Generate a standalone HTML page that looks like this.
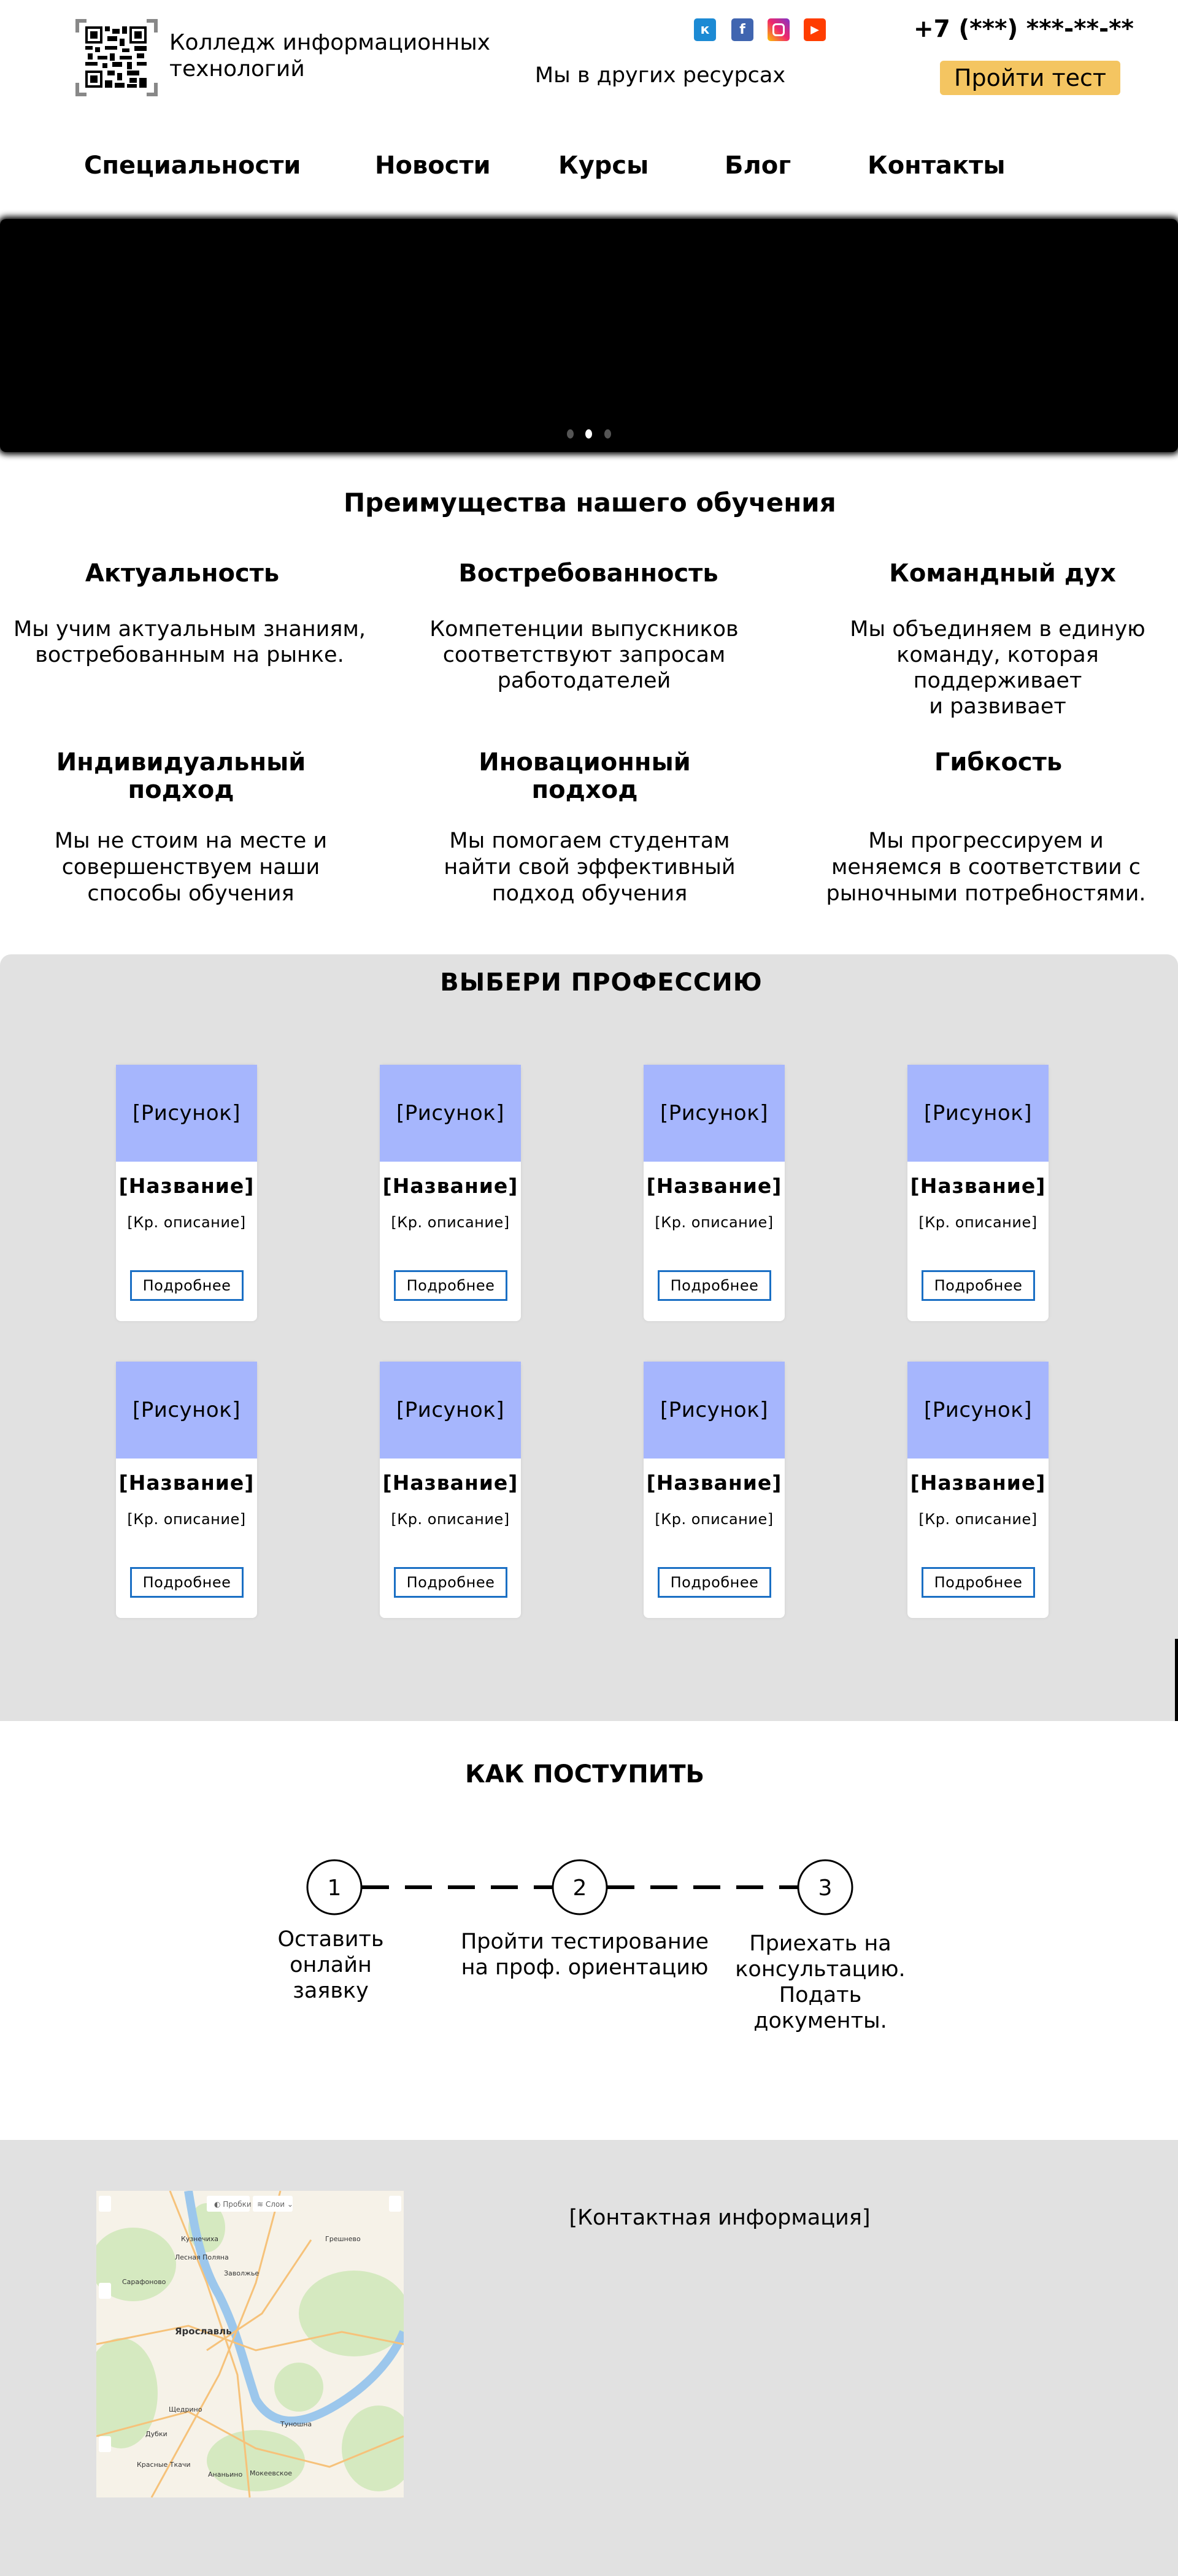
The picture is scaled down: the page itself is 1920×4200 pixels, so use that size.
<!DOCTYPE html>
<html><head><meta charset="utf-8">
<style>
*{margin:0;padding:0;box-sizing:border-box}
body{width:1920px;height:4200px;position:relative;background:#fff;font-family:"DejaVu Sans","Liberation Sans",sans-serif;color:#000;overflow:hidden}
.a{position:absolute}
.c{position:absolute;text-align:center;width:800px;white-space:nowrap}
.b{font-weight:bold}
.card{position:absolute;width:230px;height:418px;background:#fff;border-radius:8px;box-shadow:0 0 6px rgba(0,0,0,0.08)}
.card .img{position:absolute;left:0;top:0;width:230px;height:158px;background:#a6b6fd;font-size:34px;line-height:158px;text-align:center;letter-spacing:0.5px}
.card .n{position:absolute;top:178px;left:-10px;width:250px;text-align:center;font-weight:bold;font-size:33px;line-height:40px;letter-spacing:1px}
.card .d{position:absolute;top:242px;width:230px;text-align:center;font-size:24px;line-height:30px;letter-spacing:0.5px}
.card .btn{position:absolute;left:23px;top:335px;width:185px;height:50px;border:3px solid #1a6fc4;font-size:24px;line-height:44px;text-align:center;letter-spacing:0.5px}
.soc{position:absolute;top:30px;width:36px;height:37px;border-radius:5px;color:#fff;font-weight:bold;text-align:center;line-height:37px;font-size:22px}
</style></head><body>

<!-- header -->
<svg class="a" style="left:123px;top:31px" width="134" height="126" viewBox="0 0 134 126">
<g fill="#888"><rect x="0" y="0" width="18" height="6"/><rect x="0" y="0" width="6" height="22"/>
<rect x="116" y="0" width="18" height="6"/><rect x="128" y="0" width="6" height="22"/>
<rect x="0" y="120" width="18" height="6"/><rect x="0" y="104" width="6" height="22"/>
<rect x="116" y="120" width="18" height="6"/><rect x="128" y="104" width="6" height="22"/></g>
<g fill="#000" transform="translate(16,12)">
<rect x="0" y="0" width="28" height="28"/><rect x="4" y="4" width="20" height="20" fill="#fff"/><rect x="8" y="8" width="12" height="12"/>
<rect x="72" y="0" width="28" height="28"/><rect x="76" y="4" width="20" height="20" fill="#fff"/><rect x="80" y="8" width="12" height="12"/>
<rect x="0" y="72" width="28" height="28"/><rect x="4" y="76" width="20" height="20" fill="#fff"/><rect x="8" y="80" width="12" height="12"/>
<rect x="32" y="0" width="8" height="8"/><rect x="44" y="4" width="12" height="8"/><rect x="60" y="0" width="8" height="12"/><rect x="36" y="16" width="16" height="8"/><rect x="56" y="20" width="8" height="12"/>
<rect x="0" y="32" width="12" height="6"/><rect x="16" y="34" width="8" height="8"/><rect x="32" y="32" width="20" height="6"/><rect x="60" y="36" width="12" height="6"/><rect x="80" y="32" width="20" height="8"/>
<rect x="4" y="44" width="8" height="10"/><rect x="20" y="48" width="16" height="6"/><rect x="40" y="44" width="8" height="12"/><rect x="56" y="48" width="20" height="6"/><rect x="84" y="44" width="12" height="8"/>
<rect x="0" y="58" width="20" height="6"/><rect x="28" y="60" width="8" height="8"/><rect x="44" y="58" width="16" height="8"/><rect x="68" y="58" width="8" height="12"/><rect x="84" y="58" width="16" height="6"/>
<rect x="36" y="72" width="12" height="8"/><rect x="52" y="76" width="8" height="12"/><rect x="68" y="72" width="20" height="8"/><rect x="72" y="84" width="12" height="8"/><rect x="88" y="84" width="12" height="16"/>
<rect x="32" y="88" width="12" height="12"/><rect x="48" y="92" width="16" height="8"/><rect x="68" y="94" width="16" height="6"/>
</g></svg>
<div class="a" style="left:276px;top:48px;font-size:36px;line-height:43px">Колледж информационных<br>технологий</div>

<div class="soc" style="left:1131px;background:#1c8ad4">к</div>
<div class="soc" style="left:1192px;background:#4065b0">f</div>
<div class="soc" style="left:1251px;background:linear-gradient(45deg,#fdc100,#f0286b,#8134c9);"><div style="position:absolute;left:8px;top:8px;width:20px;height:21px;border:3px solid #fff;border-radius:6px"></div></div>
<div class="soc" style="left:1310px;background:#ff3d00;font-size:18px">▶</div>

<div class="c" style="left:676px;top:100px;font-size:35px;line-height:46px">Мы в других ресурсах</div>
<div class="a b" style="left:1489px;top:24px;font-size:39px;line-height:48px;white-space:nowrap">+7 (***) ***-**-**</div>
<div class="a" style="left:1532px;top:99px;width:294px;height:56px;background:#f4c561;border-radius:6px;font-size:38px;line-height:56px;text-align:center">Пройти тест</div>

<div class="a b" style="left:137px;top:246px;font-size:40px;line-height:48px">Специальности</div>
<div class="a b" style="left:611px;top:246px;font-size:40px;line-height:48px">Новости</div>
<div class="a b" style="left:910px;top:246px;font-size:40px;line-height:48px">Курсы</div>
<div class="a b" style="left:1181px;top:246px;font-size:40px;line-height:48px">Блог</div>
<div class="a b" style="left:1414px;top:246px;font-size:40px;line-height:48px">Контакты</div>

<!-- banner -->
<div class="a" style="left:0;top:357px;width:1920px;height:380px;background:#000;border-radius:10px;box-shadow:0 0 10px 4px #000"></div>
<div class="a" style="left:924px;top:700px;width:11px;height:15px;border-radius:50%;background:#555"></div>
<div class="a" style="left:954px;top:700px;width:11px;height:15px;border-radius:50%;background:#fff"></div>
<div class="a" style="left:985px;top:700px;width:11px;height:15px;border-radius:50%;background:#555"></div>

<!-- advantages -->
<div class="c b" style="left:560px;top:794px;font-size:42px;line-height:52px">Преимущества нашего обучения</div>
<div class="c b" style="left:-103px;top:910px;font-size:40px;line-height:50px">Актуальность</div>
<div class="c b" style="left:559px;top:910px;font-size:40px;line-height:50px">Востребованность</div>
<div class="c b" style="left:1234px;top:910px;font-size:40px;line-height:50px">Командный дух</div>
<div class="c" style="left:-91px;top:1005px;font-size:35px;line-height:42px">Мы учим актуальным знаниям,<br>востребованным на рынке.</div>
<div class="c" style="left:552px;top:1005px;font-size:35px;line-height:42px">Компетенции выпускников<br>соответствуют запросам<br>работодателей</div>
<div class="c" style="left:1226px;top:1005px;font-size:35px;line-height:42px">Мы объединяем в единую<br>команду, которая<br>поддерживает<br>и развивает</div>

<div class="c b" style="left:-105px;top:1221px;font-size:40px;line-height:45px">Индивидуальный<br>подход</div>
<div class="c b" style="left:553px;top:1221px;font-size:40px;line-height:45px">Иновационный<br>подход</div>
<div class="c b" style="left:1227px;top:1221px;font-size:40px;line-height:45px">Гибкость</div>
<div class="c" style="left:-89px;top:1350px;font-size:35px;line-height:43px">Мы не стоим на месте и<br>совершенствуем наши<br>способы обучения</div>
<div class="c" style="left:561px;top:1350px;font-size:35px;line-height:43px">Мы помогаем студентам<br>найти свой эффективный<br>подход обучения</div>
<div class="c" style="left:1207px;top:1350px;font-size:35px;line-height:43px">Мы прогрессируем и<br>меняемся в соответствии с<br>рыночными потребностями.</div>

<!-- professions -->
<div class="a" style="left:0;top:1556px;width:1920px;height:1250px;background:#e1e1e1;border-radius:18px 18px 0 0"></div>
<div class="a" style="left:1915px;top:2672px;width:5px;height:134px;background:#000"></div>
<div class="c b" style="left:580px;top:1578px;font-size:40px;line-height:48px;letter-spacing:1px">ВЫБЕРИ ПРОФЕССИЮ</div>

<div class="card" style="left:189px;top:1736px"><div class="img">[Рисунок]</div><div class="n">[Название]</div><div class="d">[Кр. описание]</div><div class="btn">Подробнее</div></div>
<div class="card" style="left:619px;top:1736px"><div class="img">[Рисунок]</div><div class="n">[Название]</div><div class="d">[Кр. описание]</div><div class="btn">Подробнее</div></div>
<div class="card" style="left:1049px;top:1736px"><div class="img">[Рисунок]</div><div class="n">[Название]</div><div class="d">[Кр. описание]</div><div class="btn">Подробнее</div></div>
<div class="card" style="left:1479px;top:1736px"><div class="img">[Рисунок]</div><div class="n">[Название]</div><div class="d">[Кр. описание]</div><div class="btn">Подробнее</div></div>
<div class="card" style="left:189px;top:2220px"><div class="img">[Рисунок]</div><div class="n">[Название]</div><div class="d">[Кр. описание]</div><div class="btn">Подробнее</div></div>
<div class="card" style="left:619px;top:2220px"><div class="img">[Рисунок]</div><div class="n">[Название]</div><div class="d">[Кр. описание]</div><div class="btn">Подробнее</div></div>
<div class="card" style="left:1049px;top:2220px"><div class="img">[Рисунок]</div><div class="n">[Название]</div><div class="d">[Кр. описание]</div><div class="btn">Подробнее</div></div>
<div class="card" style="left:1479px;top:2220px"><div class="img">[Рисунок]</div><div class="n">[Название]</div><div class="d">[Кр. описание]</div><div class="btn">Подробнее</div></div>

<!-- how to enroll -->
<div class="c b" style="left:553px;top:2869px;font-size:40px;line-height:48px">КАК ПОСТУПИТЬ</div>
<svg class="a" style="left:0;top:3020px" width="1920" height="120">
<line x1="590" y1="57" x2="900" y2="57" stroke="#000" stroke-width="6" stroke-dasharray="44 26"/>
<line x1="990" y1="57" x2="1300" y2="57" stroke="#000" stroke-width="6" stroke-dasharray="44 26"/>
<g fill="#fff" stroke="#000" stroke-width="3">
<circle cx="545" cy="57" r="44"/><circle cx="945" cy="57" r="44"/><circle cx="1345" cy="57" r="44"/></g>
<g font-family="DejaVu Sans" font-size="36" text-anchor="middle"><text x="545" y="70">1</text><text x="945" y="70">2</text><text x="1345" y="70">3</text></g>
</svg>
<div class="c" style="left:139px;top:3141px;font-size:35px;line-height:42px">Оставить<br>онлайн<br>заявку</div>
<div class="c" style="left:553px;top:3145px;font-size:35px;line-height:42px">Пройти тестирование<br>на проф. ориентацию</div>
<div class="c" style="left:937px;top:3148px;font-size:35px;line-height:42px">Приехать на<br>консультацию.<br>Подать<br>документы.</div>

<!-- footer -->
<div class="a" style="left:0;top:3489px;width:1920px;height:711px;background:#e1e1e1"></div>
<svg class="a" style="left:157px;top:3572px" width="501" height="500" viewBox="0 0 501 500">
<rect width="501" height="500" fill="#f6f2e8"/>
<g fill="#d5e9c0">
<ellipse cx="60" cy="120" rx="70" ry="60"/><ellipse cx="40" cy="330" rx="60" ry="90"/><ellipse cx="420" cy="200" rx="90" ry="70"/>
<ellipse cx="260" cy="440" rx="80" ry="50"/><ellipse cx="460" cy="420" rx="60" ry="70"/><ellipse cx="180" cy="60" rx="30" ry="40"/><ellipse cx="330" cy="320" rx="40" ry="40"/></g>
<path d="M150 0 C160 60 170 120 200 170 C230 230 240 280 260 340 C290 390 340 380 390 350 C440 320 480 280 501 230" fill="none" stroke="#9cc7ec" stroke-width="14"/>
<g fill="none" stroke="#f6c27a" stroke-width="3">
<path d="M0 250 L150 220 L260 260 L400 230 L501 250"/><path d="M120 0 L180 150 L230 300 L250 500"/>
<path d="M0 400 L150 360 L260 420 L380 450 L501 400"/><path d="M300 0 L260 150 L200 300 L90 500"/>
<path d="M350 80 L270 200 L180 260"/></g>
<g font-family="DejaVu Sans" font-size="11" fill="#333">
<text x="138" y="82">Кузнечиха</text><text x="128" y="112">Лесная Поляна</text><text x="42" y="152">Сарафоново</text>
<text x="208" y="138">Заволжье</text><text x="373" y="82">Грешнево</text><text x="128" y="234" font-size="15" font-weight="bold">Ярославль</text>
<text x="118" y="360">Щедрино</text><text x="80" y="400">Дубки</text><text x="300" y="384">Туношна</text>
<text x="66" y="450">Красные Ткачи</text><text x="182" y="466">Ананьино</text><text x="250" y="464">Мокеевское</text></g>
<rect x="180" y="8" width="70" height="26" rx="3" fill="#fff"/><text x="192" y="26" font-family="DejaVu Sans" font-size="12" fill="#666">◐ Пробки</text>
<rect x="255" y="8" width="65" height="26" rx="3" fill="#fff"/><text x="262" y="26" font-family="DejaVu Sans" font-size="12" fill="#666">≋ Слои ⌄</text>
<rect x="4" y="8" width="20" height="26" rx="3" fill="#fff"/><rect x="477" y="8" width="20" height="26" rx="3" fill="#fff"/>
<rect x="4" y="150" width="20" height="26" rx="3" fill="#fff"/><rect x="4" y="400" width="20" height="26" rx="3" fill="#fff"/>
</svg>
<div class="c" style="left:773px;top:3594px;font-size:35px;line-height:44px">[Контактная информация]</div>
</body></html>
